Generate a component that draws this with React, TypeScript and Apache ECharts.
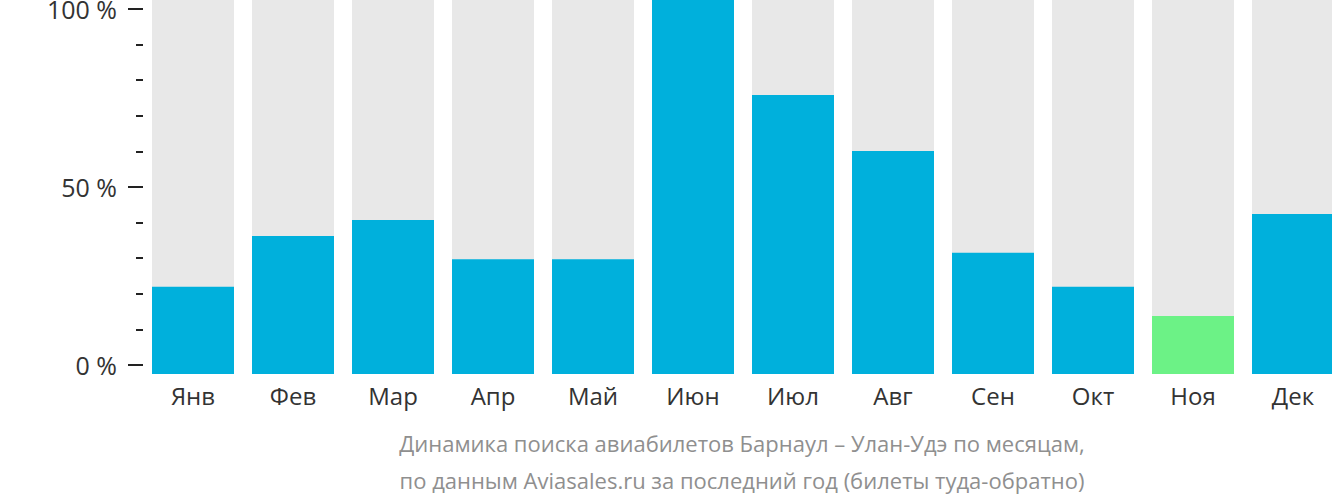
import React, { useEffect, useRef } from "react";
import * as echarts from "echarts";

const months = ["Янв", "Фев", "Мар", "Апр", "Май", "Июн", "Июл", "Авг", "Сен", "Окт", "Ноя", "Дек"];
const values = [23.3, 36.9, 41.2, 30.7, 30.7, 100, 74.6, 59.6, 32.4, 23.3, 15.5, 42.8];
const highlightIndex = 10;
const tickValues = [0, 10, 20, 30, 40, 50, 60, 70, 80, 90, 100];
const labelValues = [0, 50, 100];
const titleLines = [
  "Динамика поиска авиабилетов Барнаул – Улан-Удэ по месяцам,",
  "по данным Aviasales.ru за последний год (билеты туда-обратно)",
];

const FONT = "'Open Sans', 'Noto Sans', sans-serif";

export default function App() {
  const ref = useRef<HTMLDivElement>(null);
  useEffect(() => {
    if (!ref.current) return;
    const chart = echarts.init(ref.current, null, { renderer: "svg" });
    chart.setOption({
      animation: false,
      grid: [
        { left: 143, top: 0, width: 1200, height: 374, containLabel: false, outerBoundsMode: "none" },
        { left: 143, top: 9, width: 1200, height: 356, containLabel: false, outerBoundsMode: "none" },
      ],
      xAxis: [
        {
          type: "category",
          gridIndex: 0,
          data: months,
          axisLine: { show: false },
          axisTick: { show: false },
          axisLabel: { color: "#333", fontSize: 24, fontFamily: FONT, margin: 9 },
        },
        { type: "category", gridIndex: 1, data: months, show: false },
      ],
      yAxis: [
        { type: "value", gridIndex: 0, min: 0, max: 100, show: false },
        {
          type: "value",
          gridIndex: 1,
          min: 0,
          max: 100,
          interval: 10,
          axisLine: { show: false },
          splitLine: { show: false },
          axisTick: {
            show: true,
            length: 7,
            lineStyle: { color: "#222", width: 2 },
          },
          axisLabel: {
            color: "#333",
            fontSize: 25,
            fontFamily: FONT,
            margin: 26,
            verticalAlign: "middle",
            formatter: (v: number) => (labelValues.includes(v) ? v + " %" : ""),
          },
        },
      ],
      graphic: [
        ...tickValues
          .filter((v) => labelValues.includes(v))
          .map((v) => ({
            type: "line",
            shape: { x1: 128, y1: 365 - v * 3.56, x2: 143, y2: 365 - v * 3.56 },
            style: { stroke: "#222", lineWidth: 2 },
          })),
        ...titleLines.map((t, i) => ({
          type: "text",
          x: 742,
          y: 443 + i * 37,
          style: {
            text: t,
            fill: "#8f8f8f",
            fontSize: 22,
            fontFamily: FONT,
            textAlign: "center",
            textVerticalAlign: "middle",
          },
        })),
      ],
      series: [
        {
          type: "bar",
          xAxisIndex: 0,
          yAxisIndex: 0,
          data: months.map(() => 100),
          barWidth: 82,
          barGap: "-100%",
          itemStyle: { color: "#e8e8e8" },
          silent: true,
        },
        {
          type: "bar",
          xAxisIndex: 0,
          yAxisIndex: 0,
          data: values.map((v, i) => ({
            value: v,
            itemStyle: { color: i === highlightIndex ? "#6cf286" : "#00b0dc" },
          })),
          barWidth: 82,
          barGap: "-100%",
        },
      ],
    });
    return () => chart.dispose();
  }, []);
  return (
    <div
      style={{
        position: "fixed",
        left: 0,
        top: 0,
        width: 1332,
        height: 502,
        overflow: "hidden",
        background: "#fff",
      }}
    >
      <div ref={ref} style={{ width: 1360, height: 502 }} />
    </div>
  );
}
